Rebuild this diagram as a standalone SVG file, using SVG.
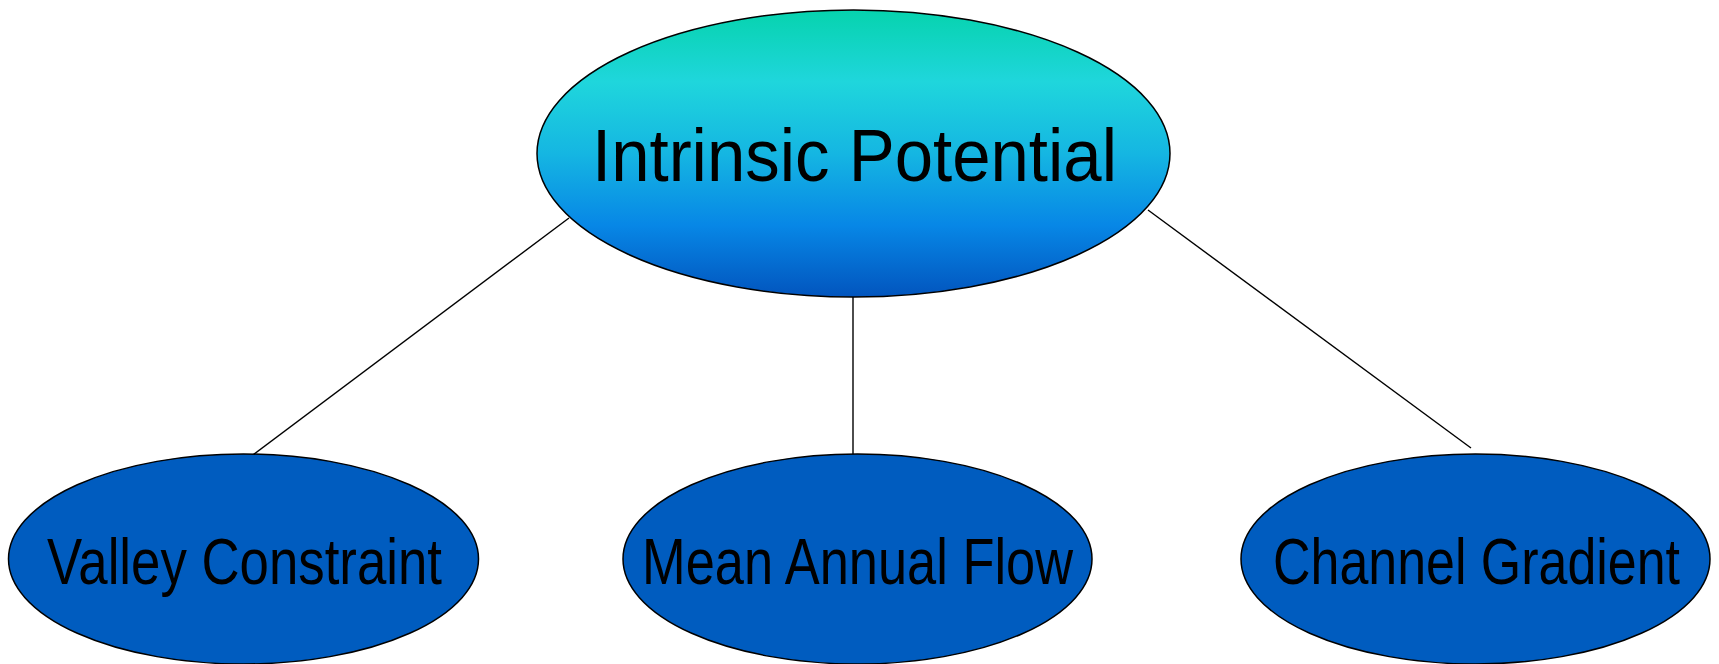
<svg xmlns="http://www.w3.org/2000/svg" width="1719" height="664" viewBox="0 0 1719 664">
  <defs>
    <linearGradient id="topGrad" x1="0" y1="0" x2="0" y2="1">
      <stop offset="0" stop-color="#06d3ae"/>
      <stop offset="0.25" stop-color="#1fd6dc"/>
      <stop offset="0.5" stop-color="#15b6e2"/>
      <stop offset="0.75" stop-color="#0787e6"/>
      <stop offset="1" stop-color="#0255be"/>
    </linearGradient>
  </defs>
  <style>
    .node { stroke: #000; stroke-width: 1.5; }
    .leaf { fill: #005cbf; }
    .label { font-family: "Liberation Sans", Arial, sans-serif; fill: #000; text-anchor: middle; }
    .conn line { stroke: #000; stroke-width: 1.4; }
  </style>
  <rect width="1719" height="664" fill="#fff"/>
  <g id="connectors" class="conn">
    <line x1="569" y1="218" x2="250" y2="457"/>
    <line x1="853" y1="297" x2="853" y2="457"/>
    <line x1="1148" y1="210" x2="1471" y2="448"/>
  </g>
  <g id="intrinsic-potential">
    <ellipse class="node" cx="853.5" cy="153.5" rx="316.5" ry="143.5" fill="url(#topGrad)"/>
    <text class="label" x="854.5" y="181" font-size="74" textLength="525" lengthAdjust="spacingAndGlyphs">Intrinsic Potential</text>
  </g>
  <g id="valley-constraint">
    <ellipse class="node leaf" cx="243.5" cy="559" rx="235" ry="105"/>
    <text class="label" x="244.5" y="584" font-size="64" textLength="395" lengthAdjust="spacingAndGlyphs">Valley Constraint</text>
  </g>
  <g id="mean-annual-flow">
    <ellipse class="node leaf" cx="857.5" cy="559" rx="234.5" ry="105"/>
    <text class="label" x="857.5" y="584" font-size="64" textLength="431" lengthAdjust="spacingAndGlyphs">Mean Annual Flow</text>
  </g>
  <g id="channel-gradient">
    <ellipse class="node leaf" cx="1475.5" cy="559" rx="234.5" ry="105"/>
    <text class="label" x="1476.5" y="584" font-size="64" textLength="407" lengthAdjust="spacingAndGlyphs">Channel Gradient</text>
  </g>
</svg>
